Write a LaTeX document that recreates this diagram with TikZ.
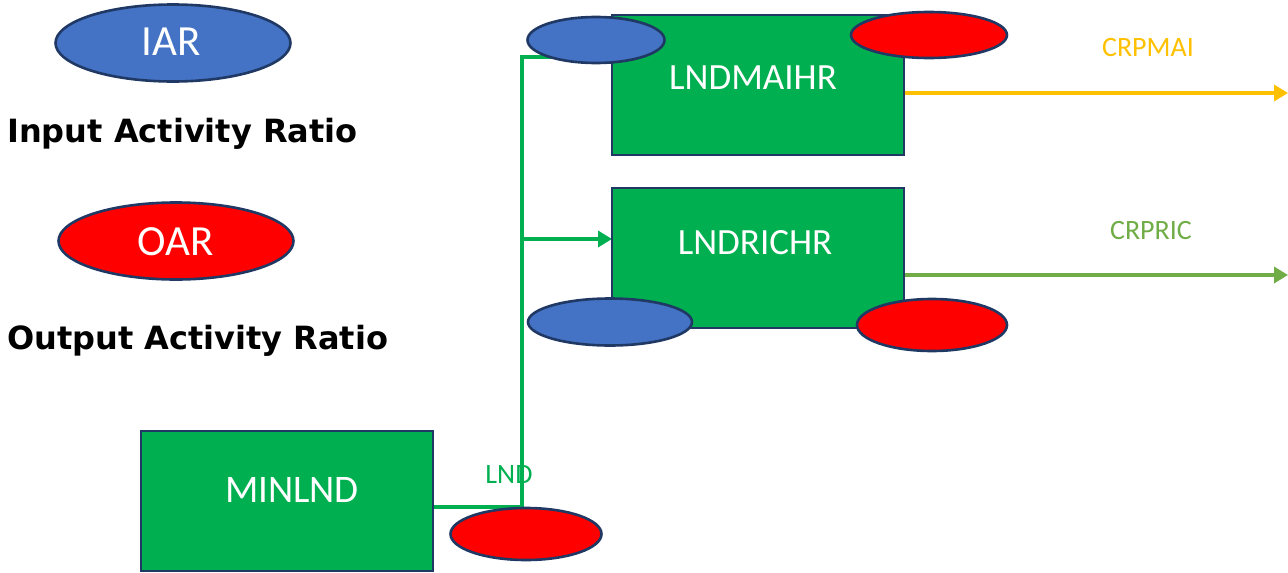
\documentclass[tikz,border=0pt]{standalone}
\usepackage{fontspec}
\setmainfont{Carlito}
\newfontfamily\verd{DejaVu Sans}
\usetikzlibrary{arrows.meta,shapes.geometric,backgrounds}
\definecolor{boxgreen}{HTML}{00B050}
\definecolor{navy}{HTML}{203864}
\definecolor{iarblue}{HTML}{4472C4}
\definecolor{oarred}{HTML}{FF0000}
\definecolor{maiyellow}{HTML}{FFC000}
\definecolor{ricgreen}{HTML}{70AD47}
\begin{document}
\begin{tikzpicture}[x=1pt,y=-1pt,
  techbox/.style={draw=navy,line width=2.6pt,fill=boxgreen,minimum width=292pt,minimum height=140pt,inner sep=0pt,outer sep=0pt},
  iar/.style={ellipse,draw=navy,line width=2.6pt,fill=iarblue,inner sep=0pt,outer sep=0pt},
  oar/.style={ellipse,draw=navy,line width=2.6pt,fill=oarred,inner sep=0pt,outer sep=0pt},
  boxtext/.style={text=white,inner sep=0pt,anchor=base,font=\fontsize{37}{37}\selectfont},
  legtext/.style={text=white,inner sep=0pt,anchor=base,font=\fontsize{43}{43}\selectfont},
  boldtext/.style={inner sep=0pt,anchor=base west,font=\verd\bfseries\fontsize{32}{32}\selectfont},
  flowlabel/.style={inner sep=0pt,anchor=base,font=\fontsize{28}{28}\selectfont},
  flow/.style={line width=3.6pt,boxgreen},
  tip/.style={-{Triangle[length=14pt,width=16pt]}}
]
\useasboundingbox (0,0) rectangle (1288,573);

% legend
\node[iar,minimum width=235pt,minimum height=77pt] (legiar) at (173,43) {};
\node[legtext] (legiartext) at (171,55) {IAR};
\node[boldtext] (inputlab) at (7,142) {Input Activity Ratio};
\node[oar,minimum width=235pt,minimum height=77pt] (legoar) at (176,241) {};
\node[legtext] (legoartext) at (176,255) {OAR};
\node[boldtext] (outputlab) at (7,349) {Output Activity Ratio};

% boxes
\node[techbox] (maihr) at (758,85) {};
\node[boxtext] (maihrtext) at (753,89) {LNDMAIHR};
\node[techbox] (richr) at (758,258) {};
\node[boxtext] (richrtext) at (755,254) {LNDRICHR};
\node[techbox] (minlnd) at (287,501) {};
\node[boxtext,font=\fontsize{39}{39}\selectfont] (minlndtext) at (292,502) {MINLND};

% ellipses
\node[iar,minimum width=137pt,minimum height=46pt] (maiiar) at (596,40) {};
\node[oar,minimum width=156pt,minimum height=46pt] (maioar) at (929,35) {};
\node[iar,minimum width=164pt,minimum height=47pt] (riciar) at (610,322) {};
\node[oar,minimum width=150pt,minimum height=52pt] (ricoar) at (932,325) {};
\node[oar,minimum width=151pt,minimum height=52pt] (minoar) at (526,534) {};

% connectors
\coordinate (j1) at (522,507);
\coordinate (j2) at (522,57);
\coordinate (j3) at (522,239);
\coordinate (o1) at (1288,93);
\coordinate (o2) at (1288,275);
\begin{pgfonlayer}{background}
\draw[flow] (minlnd.east |- j1) -- (j1) -- (j2) -- (maiiar |- j2);
\draw[flow,tip] (j3) -- (richr.west |- j3);
\draw[line width=3.6pt,maiyellow,tip] (maihr.east |- o1) -- (o1);
\draw[line width=3.6pt,ricgreen,tip] (richr.east |- o2) -- (o2);
\end{pgfonlayer}

% labels
\node[flowlabel,text=boxgreen] (lndlab) at (509,483) {LND};
\node[flowlabel,text=maiyellow] (mailab) at (1148,56) {CRPMAI};
\node[flowlabel,text=ricgreen] (riclab) at (1151,239) {CRPRIC};
\end{tikzpicture}
\end{document}
